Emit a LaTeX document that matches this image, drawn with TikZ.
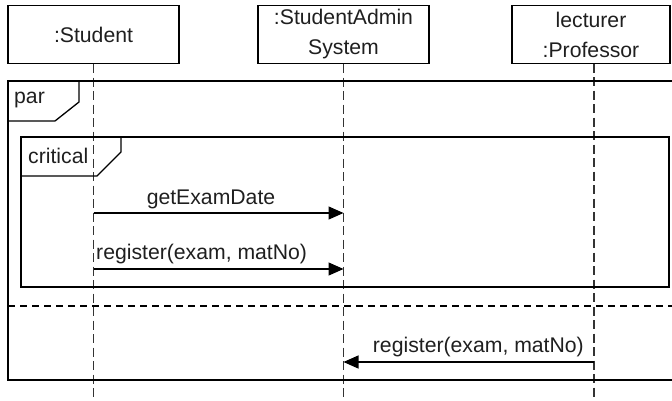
\documentclass[tikz,border=0pt]{standalone}
\usepackage{fontspec}
\setmainfont{Liberation Sans}
\usetikzlibrary{arrows.meta}
\begin{document}
\begin{tikzpicture}[x=1pt,y=-1pt,
  every node/.style={font=\fontsize{21.2}{30}\selectfont, text=black!88},
  head/.style={draw, line width=1.3pt, minimum height=58pt, align=center, inner sep=0pt},
  life/.style={draw=black!80, line width=1.3pt, dash pattern=on 9pt off 4.5pt},
  frame/.style={draw, line width=1.3pt},
  sep/.style={draw, line width=1.2pt, dash pattern=on 7pt off 5pt},
  msg/.style={draw, line width=1.3pt, -{Triangle[length=15pt,width=13pt]}},
  lbl/.style={inner sep=0pt}]
\useasboundingbox (0,0) rectangle (672,400);
\begin{scope}
\clip (0,0) rectangle (672,400);
% heads
\node[head, minimum width=171pt] (S) at (93.5,34.5) {:Student};
\node[head, minimum width=171pt] (A) at (343.5,34.5) {:StudentAdmin\\System};
\node[head, minimum width=158pt] (P) at (591,34.5) {lecturer\\:Professor};
% lifeline coordinates
\coordinate (Sb) at (93.5,400);
\coordinate (Ab) at (343.5,400);
\coordinate (Pt) at (594,63.5);
\coordinate (Pb) at (594,400);
\draw[life] (S.south) -- (Sb);
\draw[life] (A.south) -- (Ab);
\draw[life] (Pt) -- (Pb);
% par frame
\draw[frame] (8,81) rectangle (676,380);
\draw[frame] (8,121) -- (55,121) -- (79,102) -- (79,81);
\node[lbl, anchor=west] (parl) at (14,100) {par};
% separator
\draw[sep] (8,306) -- (672,306);
% critical frame
\draw[frame] (21,137) rectangle (669,287);
\draw[frame] (21,176) -- (97,176) -- (121,152) -- (121,137);
\node[lbl, anchor=west] (critl) at (28,156) {critical};
% messages
\coordinate (s1) at (93.5,213);
\coordinate (a1) at (343.5,213);
\coordinate (s2) at (93.5,269);
\coordinate (a2) at (343.5,269);
\coordinate (p3) at (594,362);
\coordinate (a3) at (343.5,362);
\draw[msg] (s1) -- (a1);
\node[lbl] (m1) at (211,199) {getExamDate};
\draw[msg] (s2) -- (a2);
\node[lbl, anchor=west] (m2) at (96,254.5) {register(exam, matNo)};
\draw[msg] (p3) -- (a3);
\node[lbl, anchor=east] (m3) at (584,347.5) {register(exam, matNo)};
\end{scope}
\end{tikzpicture}
\end{document}
